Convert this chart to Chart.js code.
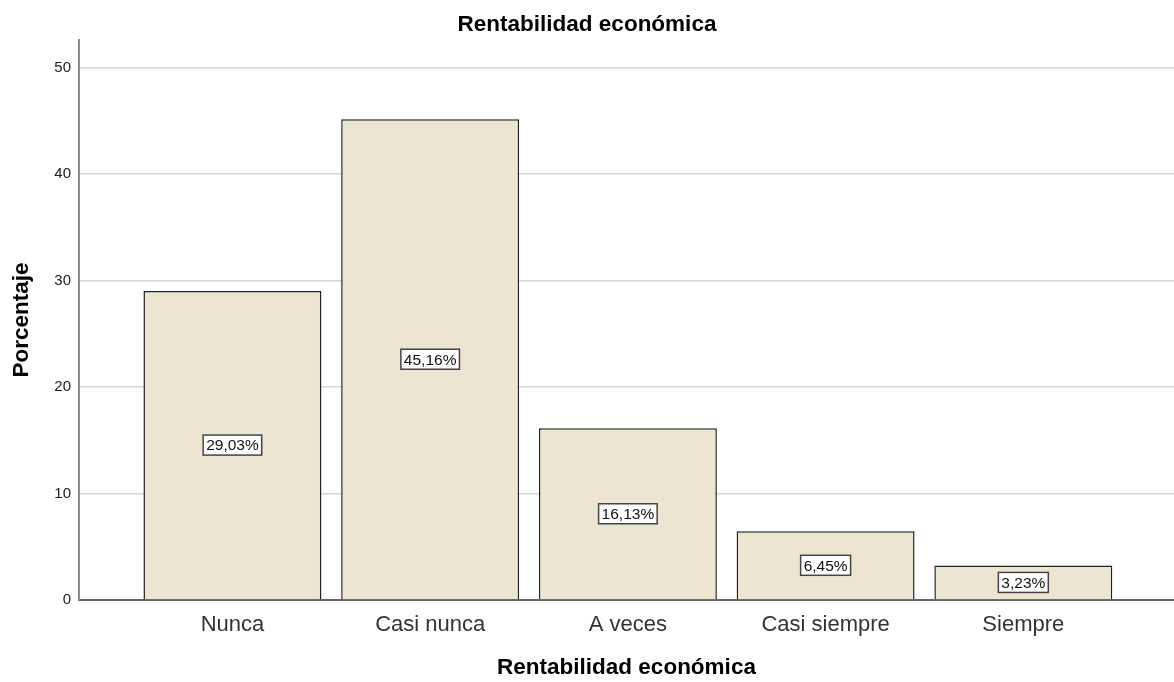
<!DOCTYPE html>
<html lang="es">
<head>
  <meta charset="UTF-8" />
  <title>Rentabilidad económica</title>
  <script src="https://cdn.jsdelivr.net/npm/chart.js"></script>
  <style>
    html, body {
      margin: 0;
      padding: 0;
      background: #fff;
    }
    #wrap {
      width: 1174px;
      height: 682px;
    }
  </style>
</head>
<body>
  <div id="wrap">
    <canvas id="chart" width="1174" height="682"></canvas>
  </div>

  <script>
    const categories = ["Nunca", "Casi nunca", "A veces", "Casi siempre", "Siempre"];
    const percentages = [29.03, 45.16, 16.13, 6.45, 3.23];
    const yTicks = [0, 10, 20, 30, 40, 50];

    const FONT = "Arial, 'Liberation Sans', sans-serif";

    // boxed value label in the middle of each bar
    const barLabels = {
      id: "barLabels",
      afterDatasetsDraw(chart) {
        const ctx = chart.ctx;
        const meta = chart.getDatasetMeta(0);
        ctx.save();
        ctx.font = "15.5px " + FONT;
        ctx.textAlign = "center";
        ctx.textBaseline = "middle";
        meta.data.forEach((bar, i) => {
          const txt = percentages[i].toFixed(2).replace(".", ",") + "%";
          const cx = bar.x;
          const cy = (bar.y + bar.base) / 2;
          const w = ctx.measureText(txt).width + 6;
          const h = 20;
          ctx.fillStyle = "#fff";
          ctx.fillRect(cx - w / 2, cy - h / 2, w, h);
          ctx.strokeStyle = "#444";
          ctx.lineWidth = 1.5;
          ctx.strokeRect(cx - w / 2, cy - h / 2, w, h);
          ctx.fillStyle = "#111";
          ctx.fillText(txt, cx, cy + 1);
        });
        ctx.restore();
      }
    };

    new Chart(document.getElementById("chart"), {
      type: "bar",
      data: {
        datasets: [{
          data: percentages.map((v, i) => ({ x: i, y: v })),
          backgroundColor: "#EBE5D1",
          borderColor: "#222",
          borderWidth: 1.5,
          barPercentage: 0.9,
          categoryPercentage: 1
        }]
      },
      options: {
        responsive: false,
        animation: false,
        layout: { padding: 0 },
        plugins: {
          legend: { display: false },
          tooltip: { enabled: false },
          title: {
            display: true,
            text: "Rentabilidad económica",
            color: "#000",
            font: { family: FONT, size: 22.5, weight: "bold" },
            padding: { top: 11, bottom: 2 }
          }
        },
        scales: {
          x: {
            type: "linear",
            offset: false,
            min: -0.776,
            max: 4.762,
            afterBuildTicks: s => { s.ticks = categories.map((c, i) => ({ value: i })); },
            afterFit: s => { s.height = 82; },
            grid: { display: false, drawTicks: false },
            border: { color: "#666", width: 2 },
            ticks: {
              padding: 12,
              color: "#333",
              font: { family: FONT, size: 22 },
              callback: v => categories[v]
            },
            title: {
              display: true,
              text: "Rentabilidad económica",
              color: "#000",
              font: { family: FONT, size: 22.5, weight: "bold" },
              padding: { top: 0, bottom: 1 }
            }
          },
          y: {
            min: 0,
            max: 52.6,
            afterBuildTicks: s => { s.ticks = yTicks.map(v => ({ value: v })); },
            afterFit: s => { s.width = 79; },
            grid: { color: "#D6D6D6", lineWidth: 1.5, drawTicks: false },
            border: { color: "#8C8C8C", width: 2 },
            ticks: {
              padding: 8,
              color: "#222",
              font: { family: FONT, size: 15 }
            },
            title: {
              display: true,
              text: "Porcentaje",
              color: "#000",
              font: { family: FONT, size: 22.5, weight: "bold" },
              padding: { top: 8, bottom: 0 }
            }
          }
        }
      },
      plugins: [barLabels]
    });
  </script>
</body>
</html>
